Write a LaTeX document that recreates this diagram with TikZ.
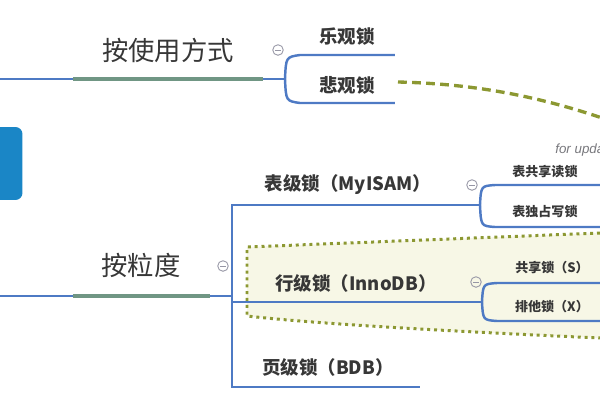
\documentclass[tikz,border=0pt]{standalone}
\usepackage{fontspec}
\setmainfont{Noto Sans CJK SC}
\newfontfamily\latinfont{Liberation Sans}
\usepackage{xcolor}
\definecolor{txtgray}{RGB}{55,55,55}
\definecolor{lineblue}{RGB}{78,122,196}
\definecolor{trunkgreen}{RGB}{112,150,132}
\definecolor{rootblue}{RGB}{26,134,198}
\definecolor{olive}{RGB}{140,152,50}
\definecolor{zonefill}{RGB}{247,247,230}
\definecolor{foldgray}{RGB}{150,150,165}
\definecolor{notegray}{RGB}{120,120,125}

\begin{document}
\begin{tikzpicture}[
    x=0.02cm, y=-0.02cm,
    topic/.style={font=\fontsize{15}{17}\selectfont, text=txtgray, inner sep=0pt},
    sub/.style={font=\fontsize{10.5}{12}\selectfont\bfseries, text=txtgray, inner sep=0pt},
    leaf/.style={font=\fontsize{7.4}{9}\selectfont\bfseries, text=txtgray, inner sep=0pt},
    note/.style={font=\latinfont\itshape\fontsize{7.6}{9}\selectfont, text=notegray, inner sep=0pt, anchor=west},
    rootbox/.style={fill=rootblue, rounded corners=4pt, minimum width=1.5cm, minimum height=1.46cm, inner sep=0pt},
    branch/.style={draw=lineblue, line width=1.4pt},
    trunk/.style={draw=trunkgreen, line width=2.8pt},
    link/.style={draw=olive, line width=1.9pt, dash pattern=on 5pt off 3pt},
    zone/.style={draw=olive, line width=1.7pt, dash pattern=on 1.7pt off 2.2pt},
    fold/.style={circle, draw=foldgray, line width=0.5pt, minimum size=6pt, inner sep=0pt,
        path picture={\draw[foldgray, line width=0.5pt] ([xshift=-1.5pt]path picture bounding box.center) -- ([xshift=1.5pt]path picture bounding box.center);}}
]
\useasboundingbox (0,0) rectangle (600,400);
\clip (0,0) rectangle (600,400);

\fill[zonefill] (247,247) -- (600,233) -- (600,338) .. controls (400,329) and (300,322) .. (247,316) -- cycle;
\draw[zone] (600,233) -- (247,247) -- (247,316) .. controls (300,322) and (400,329) .. (600,338);

\node[rootbox] (root) at (-15,163.5) {};

\coordinate (use-in) at (0,79);
\coordinate (use-split) at (285,79);
\coordinate (use-a) at (73,79);
\coordinate (use-b) at (263,79);
\node[topic] (usage) at (168,50) {按使用方式};
\node[fold] (usage-fold) at (278,50) {};
\node[sub] (opt) at (347,37) {乐观锁};
\node[sub] (pess) at (347,85) {悲观锁};
\coordinate (opt-a) at (300,55);
\coordinate (opt-b) at (395,55);
\coordinate (pess-a) at (300,103);
\coordinate (pess-b) at (395,103);
\coordinate (pess-out) at (398,82);
\coordinate (xlock-far) at (660,140);
\node[note] (forupd) at (555,150) {for update};

\draw[branch] (use-in) -- (use-split);
\draw[trunk] (use-a) -- (use-b);
\draw[branch] (use-split) .. controls (286,57) .. (opt-a) -- (opt-b);
\draw[branch] (use-split) .. controls (286,101) .. (pess-a) -- (pess-b);
\draw[link] (pess-out) .. controls (480,84) and (560,98) .. (xlock-far);

\coordinate (grain-in) at (0,296);
\coordinate (grain-split) at (232,296);
\coordinate (grain-a) at (73,296);
\coordinate (grain-b) at (210,296);
\node[topic] (grain) at (141,265) {按粒度};
\node[fold] (grain-fold) at (223,266) {};
\coordinate (tbl-a) at (232,205);
\coordinate (tbl-b) at (480,205);
\coordinate (row-a) at (232,302);
\coordinate (row-b) at (482,302);
\coordinate (page-a) at (232,387);
\coordinate (page-b) at (420,387);
\node[sub] (tbl) at (348,185) {表级锁（MyISAM）};
\node[sub] (row) at (356,283) {行级锁（InnoDB）};
\node[sub] (page) at (328,367) {页级锁（BDB）};
\node[fold] (tbl-fold) at (472,185) {};
\node[fold] (row-fold) at (476,282) {};

\draw[branch] (grain-in) -- (grain-split);
\draw[trunk] (grain-a) -- (grain-b);
\draw[branch] (tbl-b) -- (tbl-a) -- (page-a) -- (page-b);
\draw[branch] (row-a) -- (row-b);

\node[leaf] (tbl-s) at (545,172) {表共享读锁};
\node[leaf] (tbl-x) at (545,212) {表独占写锁};
\coordinate (tbl-s-a) at (495,185);
\coordinate (tbl-s-b) at (600,185);
\coordinate (tbl-x-a) at (495,227);
\coordinate (tbl-x-b) at (600,227);
\draw[branch] (tbl-b) .. controls (481,186) .. (tbl-s-a) -- (tbl-s-b);
\draw[branch] (tbl-b) .. controls (481,226) .. (tbl-x-a) -- (tbl-x-b);

\node[leaf] (row-s) at (552,268) {共享锁（S）};
\node[leaf] (row-x) at (552,307) {排他锁（X）};
\coordinate (row-s-a) at (497,283);
\coordinate (row-s-b) at (600,283);
\coordinate (row-x-a) at (497,321);
\coordinate (row-x-b) at (600,321);
\draw[branch] (row-b) .. controls (483,284) .. (row-s-a) -- (row-s-b);
\draw[branch] (row-b) .. controls (483,320) .. (row-x-a) -- (row-x-b);

\end{tikzpicture}
\end{document}
